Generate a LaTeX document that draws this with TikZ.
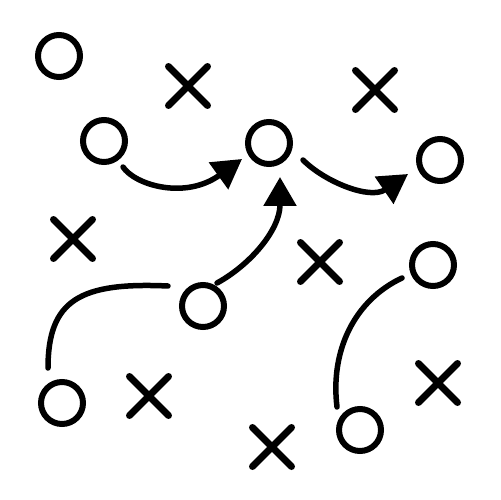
\documentclass[tikz,border=0pt]{standalone}
\usetikzlibrary{calc,shapes.misc,arrows.meta}
\begin{document}
\begin{tikzpicture}[x=0.02cm,y=-0.02cm,
  ring/.style={circle,draw=black,line width=0.12cm,inner sep=0pt,minimum size=0.84cm},
  xmark/.style={cross out,draw=black,line width=0.14cm,line cap=round,inner sep=0pt,minimum size=0.64cm},
  play/.style={draw=black,line width=0.11cm,line cap=round},
  playarrow/.style={play,-{Triangle[length=0.58cm,width=0.64cm]}}]
\useasboundingbox (0,0) rectangle (500,500);
% circles
\node[ring] (c1) at (59,56) {};
\node[ring] (c2) at (104,141) {};
\node[ring] (c3) at (269,143) {};
\node[ring] (c4) at (440,160) {};
\node[ring] (c5) at (433,265) {};
\node[ring] (c6) at (203,306) {};
\node[ring] (c7) at (62,403) {};
\node[ring] (c8) at (360,430) {};
% crosses
\node[xmark] (x1) at (188,86) {};
\node[xmark] (x2) at (375,90) {};
\node[xmark] (x3) at (73,239) {};
\node[xmark] (x4) at (320,262) {};
\node[xmark] (x5) at (149,396) {};
\node[xmark] (x6) at (438,383) {};
\node[xmark] (x7) at (272,447) {};
% arrows
\draw[playarrow] ($(c2)+(19,26)$) .. controls ($(c2)+(31,44)$) and ($(c2)+(81,59)$) .. ($(c3)+(-27,16)$);
\draw[playarrow] ($(c3)+(34,17)$) .. controls ($(c3)+(56,39)$) and ($(c3)+(101,57)$) .. ($(c4)+(-32,14)$);
\draw[playarrow] ($(c6)+(14,-23)$) .. controls ($(c6)+(47,-41)$) and ($(c6)+(77,-76)$) .. ($(c3)+(11,34)$);
% plain curves
\draw[play] ($(c7)+(-14,-35)$) .. controls ($(c7)+(-14,-103)$) and ($(c7)+(18,-121)$) .. ($(c6)+(-35,-20)$);
\draw[play] ($(c5)+(-31,13)$) .. controls ($(c5)+(-78,35)$) and ($(c5)+(-103,85)$) .. ($(c8)+(-23,-23)$);
\end{tikzpicture}
\end{document}
